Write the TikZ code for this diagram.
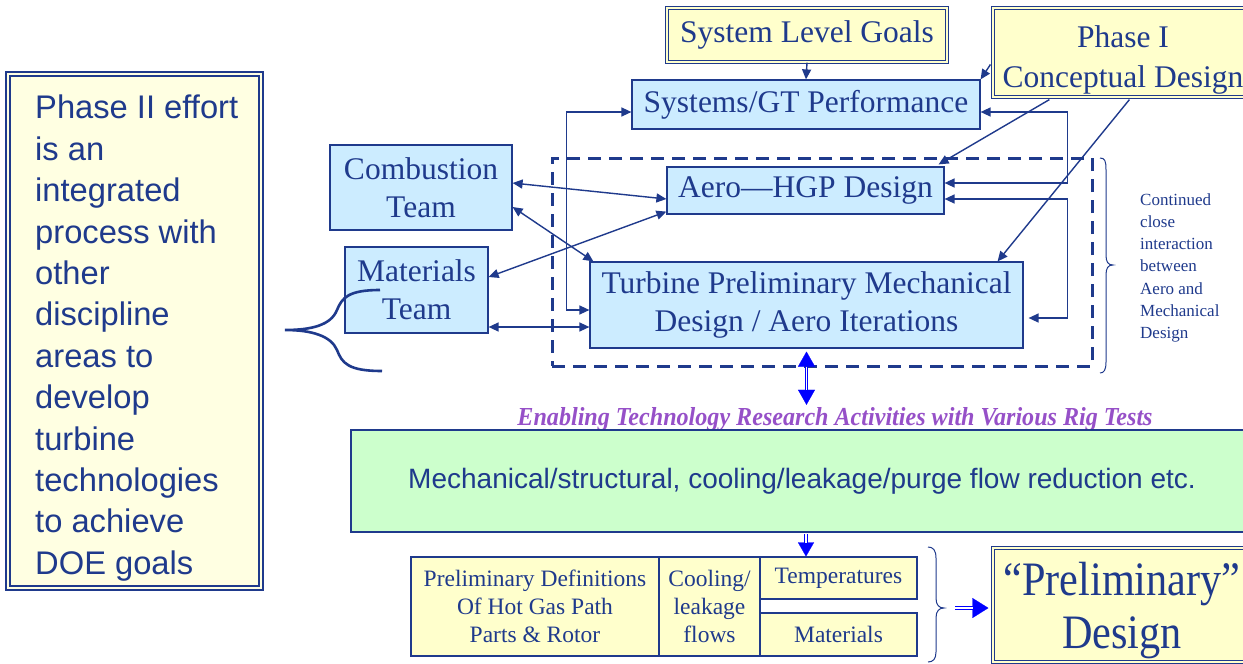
\documentclass[tikz,border=0pt]{standalone}
\usepackage{fontspec}
\usepackage{graphicx}
\setmainfont{Liberation Serif}
\newfontfamily\arialf{Liberation Sans}
\newfontfamily\prelimf[FakeStretch=0.88]{Liberation Serif}
\usetikzlibrary{arrows.meta,calc}
\definecolor{navy}{RGB}{31,58,140}
\definecolor{fillblue}{RGB}{204,236,255}
\definecolor{fillyel}{RGB}{255,255,204}
\definecolor{fillyel2}{RGB}{255,255,226}
\definecolor{fillgreen}{RGB}{204,255,204}
\definecolor{purp}{RGB}{150,80,200}
\definecolor{bblue}{RGB}{0,0,255}
\tikzset{
 bluebox/.style={draw=navy, line width=1.2pt, fill=fillblue, text=navy, font=\fontsize{31.5}{38}\selectfont, align=center, inner sep=0pt},
 yelbox/.style={draw=navy, line width=1.2pt, double=fillyel, double distance=2.2pt, fill=fillyel, text=navy, font=\fontsize{31.5}{40}\selectfont, align=center, inner sep=0pt},
 cellbox/.style={draw=navy, line width=1.1pt, fill=fillyel, text=navy, font=\fontsize{23.5}{28}\selectfont, align=center, inner sep=0pt},
 conn/.style={draw=navy, line width=1.4pt, >={Triangle[length=10pt,width=9pt]}},
 bhead/.style={draw=bblue, fill=bblue, line width=0.2pt},
 bshaft/.style={draw=bblue, line width=1.1pt, double=white, double distance=1.6pt},
 bracestyle/.style={draw=navy, line width=1pt},
}
\begin{document}
\begin{tikzpicture}[x=1pt,y=-1pt]
\useasboundingbox (0,0) rectangle (1243,664);
\clip (0,0) rectangle (1243,664);
\fill[white] (0,0) rectangle (1243,664);

% left box
\node[draw=navy, line width=1.5pt, double=fillyel2, double distance=2.4pt, fill=fillyel2, minimum width=253pt, minimum height=514pt, inner sep=0pt] (left) at (134.5,331) {};
\node[anchor=north west, text=navy, font=\arialf\fontsize{32.7}{41.4}\selectfont, align=left, inner sep=0pt] (lefttxt) at (35,95) {Phase II effort\\is an\\integrated\\process with\\other\\discipline\\areas to\\develop\\turbine\\technologies\\to achieve\\DOE goals};

% dashed group
\node[draw=navy, line width=3pt, dash pattern=on 13pt off 8pt, minimum width=540pt, minimum height=208pt, inner sep=0pt] (grp) at (822,262) {};

% top boxes
\node[yelbox, minimum width=280pt, minimum height=54pt] (slg) at (807,35) {System Level Goals};
\node[yelbox, minimum width=260pt, minimum height=89pt] (ph1) at (1123,52.5) {};
\node[text=navy, font=\fontsize{31.5}{40}\selectfont, align=center, inner sep=0pt] (ph1txt) at (1123,60) {Phase I\\Conceptual Design};
\node[bluebox, minimum width=348pt, minimum height=49pt] (sys) at (806,104.5) {Systems/GT Performance};
\node[bluebox, minimum width=182pt, minimum height=85pt] (comb) at (421,187.5) {Combustion\\Team};
\node[bluebox, minimum width=143pt, minimum height=86pt] (mat) at (416.5,290) {Materials\\Team};
\node[bluebox, minimum width=277pt, minimum height=47pt] (aero) at (805.5,190.5) {Aero—HGP Design};
\node[bluebox, minimum width=433pt, minimum height=86pt] (turb) at (806.5,305) {Turbine Preliminary Mechanical\\Design / Aero Iterations};

\node[text=navy, font=\fontsize{17}{22.3}\selectfont, align=left, anchor=north west, inner sep=0pt] (cont) at (1140,193) {Continued\\close\\interaction\\between\\Aero and\\Mechanical\\Design};

% connectors
\draw[conn,->] (slg.south) -- (sys.north);
\draw[conn,->] ($(ph1.west)+(-2,12)$) -- (sys.north east);
\draw[conn,->] ($(ph1.south west)+(57,2)$) -- ($(aero.north east)+(-6,-2)$);
\draw[conn,->] ($(ph1.south west)+(137,2)$) -- ($(turb.north east)+(-26,0)$);
\draw[conn,<->] ($(comb.east)+(0,-4.5)$) -- ($(aero.west)+(0,8.5)$);
\draw[conn,<->] ($(comb.east)+(0,19.5)$) -- ($(turb.north west)+(4,0)$);
\draw[conn,<->] ($(mat.east)+(0,-13)$) -- ($(aero.south west)+(0,-3)$);
\draw[conn,<->] ($(mat.east)+(0,37)$) -- ($(turb.west)+(0,22)$);
\draw[conn,<->] ($(turb.west)+(0,5)$) -- ++(-23,0) |- ($(sys.west)+(0,7.5)$);
\draw[conn,<->] ($(sys.east)+(0,7.5)$) -- ++(87,0) |- ($(aero.east)+(0,-7.5)$);
\draw[conn,<->] ($(aero.east)+(0,8.5)$) -- ++(123,0) |- ($(turb.east)+(5,13)$);

% braces
\draw[draw=navy, line width=2.6pt] (380,290) .. controls (348,290) and (342,298) .. (337,310) .. controls (331,325) and (312,330) .. (285,330) .. controls (312,330) and (331,336) .. (337,350) .. controls (342,363) and (348,371) .. (382,371);
\draw[bracestyle] (1100,158) .. controls (1105,158) and (1106,161) .. (1106,170) -- (1106,255) .. controls (1106,262) and (1108,265) .. (1113,265) .. controls (1108,265) and (1106,268) .. (1106,275) -- (1106,362) .. controls (1106,370) and (1104,373) .. (1100,373);

% title
\node[anchor=base, inner sep=0pt, text=purp] (title) at (835,425) {\resizebox{635pt}{18pt}{\bfseries\itshape\underline{Enabling Technology Research Activities with Various Rig Tests}}};

% blue double arrow
\coordinate (ua) at (turb.south);
\coordinate (ub) at (turb.south |- title.north);
\draw[bhead, {Triangle[length=15pt,width=17pt]}-{Triangle[length=15pt,width=17pt]}] ($(ua)+(0,3)$) -- ($(ub)+(0,-2)$);
\draw[bshaft, shorten <=15pt, shorten >=15pt] ($(ua)+(0,3)$) -- ($(ub)+(0,-2)$);

% green box
\node[draw=navy, line width=1.5pt, fill=fillgreen, minimum width=902pt, minimum height=102pt, inner sep=0pt, text=navy, font=\arialf\fontsize{28}{34}\selectfont] (green) at (802,481) {Mechanical/structural, cooling/leakage/purge flow reduction etc.};

% table
\node[cellbox, minimum width=248pt, minimum height=99pt] (cdef) at (535,606.5) {Preliminary Definitions\\Of Hot Gas Path\\Parts \& Rotor};
\node[cellbox, minimum width=101pt, minimum height=99pt] (ccool) at (709.5,606.5) {Cooling/\\leakage\\flows};
\node[cellbox, minimum width=157pt, minimum height=42pt] (temp) at (838.5,578) {Temperatures};
\node[cellbox, minimum width=157pt, minimum height=43pt] (matl) at (838.5,634.5) {Materials};

\coordinate (gbot) at ($(green.south)+(4,1)$);
\draw[bhead, -{Triangle[length=14pt,width=16pt]}] (gbot) -- (gbot |- temp.north);
\draw[bshaft, shorten >=13pt] (gbot) -- (gbot |- temp.north);

% bottom brace
\draw[bracestyle] (928,547) .. controls (933,547) and (936,550) .. (936,558) -- (936,598) .. controls (936,605) and (939,608) .. (944,608) .. controls (939,608) and (936,611) .. (936,618) -- (936,652) .. controls (936,659) and (933,662) .. (928,662);

% preliminary design
\node[yelbox, minimum width=260pt, minimum height=114pt] (prelim) at (1123,605) {};
\node[text=navy, font=\prelimf\fontsize{48}{53}\selectfont, align=center, inner sep=0pt] (prelimtxt) at (1122,610.5) {“Preliminary”\\Design};

\coordinate (btip) at (955,608);
\draw[bhead, -{Triangle[length=16pt,width=20pt]}] (btip) -- ($(btip -| prelim.west)+(-4,0)$);
\draw[draw=bblue, line width=1.4pt, double=white, double distance=1.8pt, shorten >=15pt] (btip) -- ($(btip -| prelim.west)+(-4,0)$);
\end{tikzpicture}
\end{document}
